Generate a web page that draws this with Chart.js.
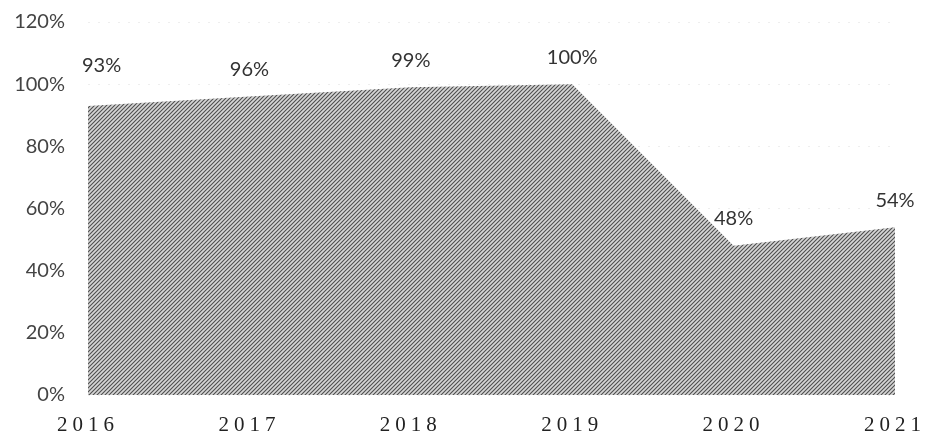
<!DOCTYPE html>
<html>
<head>
<meta charset="utf-8">
<script src="https://cdn.jsdelivr.net/npm/chart.js@4.4.0/dist/chart.umd.min.js"></script>
<style>
	html, body { margin: 0; padding: 0; background: #fff; }
	#contenedor { width: 925px; height: 440px; }
</style>
</head>
<body>
<div id="contenedor"><canvas id="graficaArea"></canvas></div>
<script>

	// Datos de la grafica
	const anios = ['2016', '2017', '2018', '2019', '2020', '2021'];
	const porcentajes = [93, 96, 99, 100, 48, 54];
	const ticksY = [0, 20, 40, 60, 80, 100, 120];

	// Patron rayado para el relleno
	const crearPatron = function(){
		let c = document.createElement('canvas');
		c.width = 4;
		c.height = 4;
		let p = c.getContext('2d');
		p.fillStyle = '#d6d6d6';
		p.fillRect(0, 0, 4, 4);
		p.strokeStyle = '#4e4e4e';
		p.lineWidth = 1.1;
		p.beginPath();
		p.moveTo(-1, 5); p.lineTo(5, -1);
		p.moveTo(-1, 1); p.lineTo(1, -1);
		p.moveTo(3, 5); p.lineTo(5, 3);
		p.stroke();
		return p.createPattern(c, 'repeat');
	}

	// Etiquetas de porcentaje sobre cada punto
	const etiquetasPlugin = {
		id: 'etiquetas',
		afterDatasetsDraw(chart){
			let ctx = chart.ctx;
			let meta = chart.getDatasetMeta(0);
			ctx.save();
			ctx.font = '20px Lato';
			ctx.fillStyle = '#333';
			ctx.textBaseline = 'middle';
			meta.data.forEach(function(punto, i){
				let texto = porcentajes[i] + '%';
				if(i == 0){
					ctx.textAlign = 'left';
					ctx.fillText(texto, punto.x - 6, punto.y - 40);
				}else{
					ctx.textAlign = 'center';
					ctx.fillText(texto, punto.x, punto.y - 27);
				}
			});
			ctx.restore();
			// espaciado de letras para los anios (se dibujan despues)
			ctx.letterSpacing = '5px';
		},
		afterDraw(chart){
			chart.ctx.letterSpacing = '0px';
		}
	}

	var ctx = document.getElementById('graficaArea').getContext('2d');

	var datos = {
		labels: anios,
		datasets: [
			{
				data: porcentajes,
				fill: 'origin',
				backgroundColor: crearPatron(),
				borderWidth: 0,
				pointRadius: 0,
				tension: 0
			}
		]
	}

	var opciones = {
		responsive: true,
		maintainAspectRatio: false,
		animation: false,
		layout: { padding: { top: 22, right: 30, left: 0, bottom: 0 } },
		plugins: {
			legend: { display: false },
			tooltip: { enabled: false }
		},
		scales: {
			x: {
				offset: false,
				grid: { display: false, drawTicks: false },
				border: { display: false },
				afterFit: function(s){
					s.height = 45;
					s.paddingLeft = 0;
					s.paddingRight = 0;
				},
				ticks: {
					z: 1,
					padding: 18,
					maxRotation: 0,
					color: '#222',
					font: { family: 'Liberation Serif', size: 21 }
				}
			},
			y: {
				min: 0,
				max: 120,
				afterFit: function(s){
					s.width = 88;
					s.paddingTop = 0;
					s.paddingBottom = 0;
				},
				afterBuildTicks: function(s){ s.ticks = ticksY.map(v => ({ value: v })); },
				grid: { color: '#eeeeee', drawTicks: false },
				border: { display: false, dash: [2, 8] },
				ticks: {
					padding: 23,
					color: '#444',
					font: { family: 'Lato', size: 20 },
					callback: v => v + '%'
				}
			}
		}
	}

	new Chart(ctx, {
		type: 'line',
		data: datos,
		options: opciones,
		plugins: [etiquetasPlugin]
	});

</script>
</body>
</html>
